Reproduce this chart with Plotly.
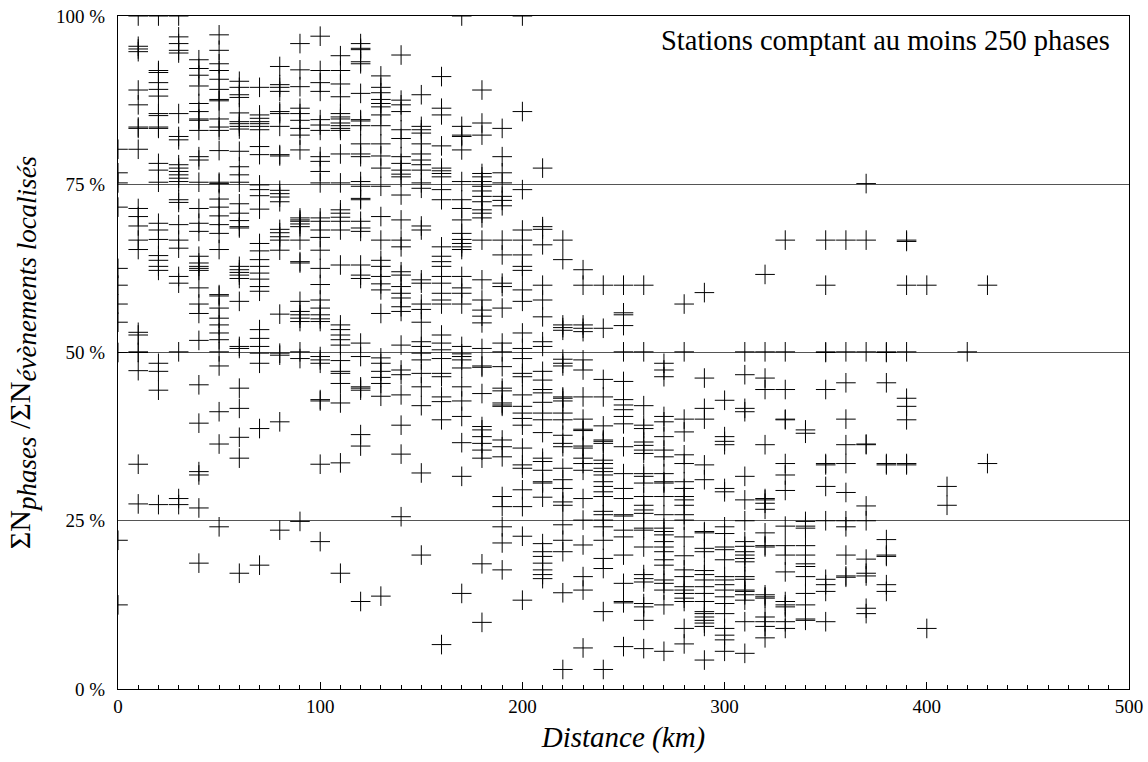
import plotly.graph_objects as go

# distance columns (km) and ratio values (%)
d000 = [80.2, 76.7, 75.2, 71.6, 62.5, 60.0, 57.2, 54.5, 50.0, 22.1, 12.5]
d010 = [100, 95.5, 95.1, 94.7, 89.0, 86.8, 83.5, 83.3, 80.2, 71.4, 70.2, 68.8, 66.7, 65.3, 53.0, 52.6, 50.1, 50.0, 47.3, 33.4, 27.5]
d020 = [100, 91.9, 91.6, 90.1, 89.1, 88.1, 85.5, 85.2, 83.5, 83.3, 78.1, 77.1, 75.3, 69.2, 68.2, 66.8, 64.4, 63.7, 62.8, 62.2, 48.4, 47.2, 44.4, 27.4]
d030 = [100, 96.9, 95.9, 94.9, 94.5, 85.5, 82.1, 81.6, 77.9, 77.4, 76.9, 76.4, 75.9, 75.4, 72.7, 72.3, 69.0, 66.7, 65.5, 61.3, 60.3, 50.1, 28.3, 27.4]
d040 = [93.5, 92.2, 91.2, 89.6, 87.0, 85.8, 84.7, 84.5, 83.0, 79.1, 78.6, 75.3, 71.4, 69.2, 68.0, 64.3, 63.3, 62.8, 62.5, 62.2, 59.6, 57.2, 55.8, 51.8, 45.2, 39.5, 32.3, 31.8, 26.9, 18.7]
d050 = [97.2, 94.9, 92.9, 91.9, 90.6, 89.1, 87.6, 87.4, 84.7, 83.5, 83.0, 80.0, 75.3, 75.1, 72.8, 71.6, 70.3, 69.0, 67.7, 65.3, 58.6, 58.4, 56.6, 55.1, 54.1, 52.9, 51.9, 50.1, 48.0, 41.2, 36.4, 24.1]
d060 = [90.3, 89.4, 88.3, 87.9, 85.6, 84.3, 84.0, 83.6, 83.2, 79.9, 77.6, 76.4, 75.3, 72.1, 70.7, 69.6, 68.7, 68.5, 62.8, 62.3, 61.9, 61.5, 61.0, 57.6, 50.9, 50.6, 44.7, 41.7, 37.4, 34.3, 17.2]
d070 = [89.4, 85.3, 84.8, 84.3, 84.0, 83.6, 83.1, 80.6, 79.4, 74.9, 74.2, 73.3, 71.3, 66.2, 65.1, 63.8, 62.8, 61.8, 60.9, 59.8, 59.1, 53.4, 52.1, 50.9, 49.9, 48.4, 38.7, 18.4]
d080 = [92.5, 89.8, 89.4, 88.8, 85.8, 85.5, 83.6, 79.4, 79.2, 74.1, 73.6, 73.1, 72.4, 68.3, 67.8, 67.2, 66.7, 65.2, 55.7, 49.9, 49.6, 39.7, 23.6]
d090 = [95.9, 92.0, 89.5, 86.3, 85.5, 84.5, 83.3, 82.3, 80.1, 70.0, 69.7, 69.5, 69.1, 68.7, 66.7, 63.5, 63.3, 57.6, 56.1, 55.6, 55.1, 54.6, 50.1, 49.1, 24.9]
d100 = [97.0, 91.9, 90.1, 88.8, 84.6, 83.8, 83.0, 79.1, 78.4, 76.9, 75.2, 70.0, 69.5, 68.2, 67.1, 65.2, 62.5, 60.1, 57.8, 56.6, 55.6, 55.0, 54.6, 49.4, 48.9, 48.4, 43.0, 42.8, 33.4, 21.9]
d110 = [94.1, 91.9, 89.9, 88.0, 85.5, 85.0, 84.7, 84.1, 83.7, 83.3, 83.0, 79.5, 75.2, 71.2, 70.7, 70.1, 69.5, 68.2, 63.0, 54.1, 53.4, 52.6, 51.9, 51.1, 48.8, 47.2, 46.9, 45.4, 42.5, 33.6, 17.2]
d120 = [95.9, 95.2, 95.0, 93.2, 92.9, 88.5, 84.6, 84.4, 83.7, 81.0, 79.5, 79.1, 75.4, 74.7, 72.9, 72.7, 69.5, 68.5, 68.0, 63.0, 61.5, 61.0, 51.4, 49.4, 44.9, 44.7, 44.4, 37.8, 36.1, 13.0]
d130 = [91.1, 89.4, 88.6, 87.6, 87.0, 86.5, 85.3, 83.7, 81.0, 79.2, 77.4, 74.7, 70.2, 66.7, 63.7, 62.8, 61.3, 60.2, 59.3, 55.8, 49.2, 48.4, 47.2, 46.3, 45.4, 43.5, 13.8]
d140 = [94.2, 87.5, 86.8, 85.8, 83.1, 81.8, 79.1, 78.1, 77.1, 76.5, 76.1, 73.4, 69.7, 66.7, 65.7, 62.0, 61.5, 59.8, 58.8, 58.1, 56.8, 56.1, 51.1, 47.4, 46.7, 43.7, 39.2, 34.9, 25.6]
d150 = [88.3, 83.6, 83.1, 82.6, 81.0, 79.5, 78.6, 77.9, 77.1, 75.2, 74.4, 68.8, 68.2, 60.8, 60.3, 57.2, 56.4, 54.5, 51.6, 50.9, 49.9, 48.9, 46.9, 44.9, 42.1, 32.1, 19.9]
d160 = [91.0, 86.3, 85.3, 80.7, 77.4, 77.0, 76.6, 76.1, 74.2, 72.7, 65.7, 64.3, 63.5, 62.8, 61.3, 60.3, 58.8, 57.8, 57.2, 52.6, 51.4, 50.4, 49.1, 46.9, 46.4, 43.4, 42.7, 40.0, 6.6]
d170 = [100, 83.6, 82.3, 82.1, 80.1, 75.4, 72.7, 71.4, 69.7, 67.7, 66.8, 66.2, 65.7, 65.3, 61.3, 59.6, 58.8, 57.2, 50.9, 49.8, 49.4, 48.9, 47.7, 44.9, 42.8, 40.5, 36.6, 31.6, 14.2]
d180 = [89.0, 84.1, 82.3, 76.6, 76.1, 75.4, 74.7, 74.0, 73.2, 72.4, 71.2, 70.7, 70.0, 66.7, 60.8, 57.8, 56.3, 55.4, 54.4, 50.6, 48.0, 47.8, 43.9, 39.0, 38.5, 37.5, 36.5, 35.5, 34.3, 18.6, 9.9]
d190 = [83.3, 79.1, 76.7, 75.2, 73.2, 72.6, 71.8, 66.7, 64.5, 60.3, 59.8, 56.6, 51.4, 50.1, 47.9, 44.7, 44.3, 42.5, 42.2, 42.0, 37.0, 36.0, 34.5, 28.6, 27.1, 24.1, 21.7, 17.7]
d200 = [100, 85.8, 74.2, 68.2, 66.7, 64.5, 62.8, 62.2, 59.3, 57.6, 52.9, 50.6, 49.1, 46.9, 46.4, 43.7, 42.0, 41.0, 40.2, 39.2, 35.8, 33.3, 32.8, 29.6, 27.1, 22.7, 13.2]
d210 = [77.4, 68.7, 68.3, 66.0, 60.0, 57.8, 55.3, 51.6, 50.9, 47.2, 45.9, 44.5, 44.0, 42.6, 41.0, 40.0, 38.1, 34.3, 33.8, 32.5, 30.8, 30.6, 28.5, 21.6, 20.4, 19.7, 18.7, 17.7, 17.0, 16.4]
d220 = [66.7, 63.8, 54.1, 53.7, 53.3, 49.0, 48.4, 48.0, 43.4, 43.2, 42.8, 41.0, 40.0, 37.7, 36.5, 36.0, 32.8, 31.1, 29.8, 27.8, 27.3, 24.4, 22.1, 20.4, 14.3, 2.9]
d230 = [62.3, 60.0, 54.1, 53.6, 53.1, 48.9, 47.4, 43.4, 40.1, 38.6, 38.4, 36.1, 35.8, 34.3, 33.5, 32.5, 28.3, 25.1, 21.4, 16.7, 14.7, 6.1]
d240 = [60.0, 53.6, 46.0, 43.4, 39.1, 37.0, 36.8, 36.5, 34.0, 33.5, 32.8, 32.3, 31.8, 30.8, 30.1, 29.3, 28.6, 26.4, 25.9, 25.1, 24.1, 22.1, 19.4, 17.9, 11.5, 2.9]
d250 = [60.0, 55.9, 55.6, 54.0, 50.1, 45.7, 43.0, 42.2, 41.5, 40.5, 39.4, 36.0, 32.0, 29.8, 28.3, 25.9, 25.7, 23.6, 22.6, 19.9, 15.7, 13.0, 12.8, 6.3]
d260 = [60.0, 50.1, 42.1, 39.2, 38.7, 36.7, 36.2, 35.5, 35.0, 32.0, 31.6, 30.6, 28.6, 27.3, 26.6, 26.1, 23.9, 23.6, 21.1, 17.0, 16.4, 15.9, 12.7, 12.2, 10.2, 6.0]
d270 = [48.4, 47.4, 46.4, 40.5, 39.7, 37.5, 35.5, 34.5, 32.0, 30.8, 30.6, 28.6, 25.9, 23.9, 23.4, 22.9, 21.9, 21.1, 20.4, 19.2, 18.4, 16.2, 15.7, 14.7, 12.5, 5.6]
d280 = [57.2, 50.1, 40.1, 38.2, 34.8, 33.5, 30.8, 29.8, 28.6, 28.1, 27.3, 25.9, 25.1, 22.6, 19.8, 17.7, 16.7, 15.2, 14.7, 14.2, 13.5, 13.0, 9.0, 6.7]
d290 = [58.9, 46.2, 41.7, 40.1, 33.3, 31.1, 23.4, 23.2, 20.9, 20.4, 17.6, 17.0, 16.2, 15.2, 14.2, 13.0, 11.5, 11.2, 10.7, 10.2, 9.8, 9.3, 4.3]
d300 = [42.9, 37.5, 36.8, 36.3, 29.8, 29.3, 24.1, 23.1, 21.1, 20.7, 19.2, 16.7, 16.2, 15.5, 14.7, 13.7, 12.7, 11.2, 9.0, 8.0, 7.3, 5.6]
d310 = [50.1, 46.7, 41.7, 41.2, 31.6, 28.1, 25.0, 21.9, 21.2, 20.4, 19.9, 19.4, 18.9, 16.7, 16.3, 14.7, 14.5, 14.0, 13.2, 10.0, 5.3]
d320 = [61.6, 50.1, 46.2, 44.5, 36.3, 28.3, 28.1, 27.6, 26.7, 23.2, 21.3, 21.1, 14.0, 13.7, 13.5, 10.7, 10.0, 9.3, 7.6]
d330 = [66.7, 50.1, 44.5, 40.1, 40.0, 33.5, 31.8, 29.5, 24.2, 21.3, 19.9, 17.4, 13.0, 12.5, 12.2, 10.0, 9.0]
d340 = [38.5, 38.0, 24.9, 24.2, 23.9, 21.3, 19.9, 18.6, 18.2, 16.7, 14.2, 12.5, 10.4, 10.2]
d350 = [66.7, 60.0, 50.1, 50.0, 44.5, 33.5, 33.3, 30.1, 25.0, 16.3, 15.5, 14.5, 10.0]
d360 = [66.7, 50.1, 45.5, 40.1, 36.3, 33.5, 29.2, 25.0, 24.1, 19.9, 16.8, 16.6]
d370 = [75.1, 66.7, 50.1, 36.3, 36.4, 27.2, 25.0, 19.3, 17.2, 16.8, 12.0, 11.2]
d380 = [50.1, 50.0, 45.5, 33.5, 33.3, 22.2, 19.9, 19.7, 15.5, 14.5]
d390 = [66.7, 66.5, 60.0, 50.1, 43.2, 42.0, 40.0, 33.5, 33.3]
d400 = [60.0, 9.0]
d410 = [30.1, 27.3]
d420 = [50.1]
d430 = [60.0, 33.5]

distances = list(range(0, 440, 10))
columns = [d000, d010, d020, d030, d040, d050, d060, d070, d080, d090,
           d100, d110, d120, d130, d140, d150, d160, d170, d180, d190,
           d200, d210, d220, d230, d240, d250, d260, d270, d280, d290,
           d300, d310, d320, d330, d340, d350, d360, d370, d380, d390,
           d400, d410, d420, d430]

y_ticks = [0, 25, 50, 75, 100]
y_ticktext = ["0 %", "25 %", "50 %", "75 %", "100 %"]
x_ticks = [0, 100, 200, 300, 400, 500]

xs, ys = [], []
for d, col in zip(distances, columns):
    for v in col:
        xs.append(d)
        ys.append(v)

SERIF = "Liberation Serif, Times New Roman, serif"

fig = go.Figure()
fig.add_trace(go.Scatter(
    x=xs, y=ys, mode="markers",
    marker=dict(symbol="cross-thin", size=14, color="black",
                line=dict(width=1, color="black")),
    cliponaxis=True, showlegend=False, hoverinfo="x+y",
))

SUB = "font-size:27px"
ytitle = ("ΣN<sub><i><span style='%s'>phases</span></i></sub> /"
          "ΣN<sub><i><span style='%s'>évènements localisés</span></i></sub>") % (SUB, SUB)

fig.update_layout(
    width=1148, height=762,
    margin=dict(l=118, r=19, t=16, b=73, autoexpand=False),
    paper_bgcolor="white", plot_bgcolor="white",
    font=dict(family=SERIF, color="black", size=19),
    xaxis=dict(
        range=[0, 500], tickvals=x_ticks, ticks="inside", ticklen=7,
        tickcolor="black", tickwidth=1,
        minor=dict(dtick=10, tick0=0, ticks="inside", ticklen=4,
                   tickcolor="black", tickwidth=1),
        showline=True, linecolor="black", linewidth=1, mirror=True,
        showgrid=False, zeroline=False, automargin=False,
        ticklabeloverflow="allow",
        tickfont=dict(size=19, family=SERIF),
        title=dict(text="<i>Distance (km)</i>", font=dict(size=29, family=SERIF),
                   standoff=10),
    ),
    yaxis=dict(
        range=[0, 100], tickvals=y_ticks, ticktext=y_ticktext, ticks="",
        showline=True, linecolor="black", linewidth=1, mirror=True,
        showgrid=True, gridcolor="#555555", gridwidth=1, zeroline=False,
        automargin=False, ticklabeloverflow="allow",
        tickfont=dict(size=19, family=SERIF),
        ticklabelstandoff=8,
        title=dict(text=ytitle, font=dict(size=30, family=SERIF), standoff=16),
    ),
    annotations=[dict(
        text="Stations comptant au moins 250 phases",
        xref="paper", yref="paper", x=0.983, y=0.99,
        xanchor="right", yanchor="top", showarrow=False,
        font=dict(size=28.5, family=SERIF, color="black"),
    )],
)

# remove the default page margin so the figure sits at the window's corner
fig.write_html("out.html",
               config={"displayModeBar": False},
               post_script="document.body.style.margin='0';document.body.style.padding='0';")
